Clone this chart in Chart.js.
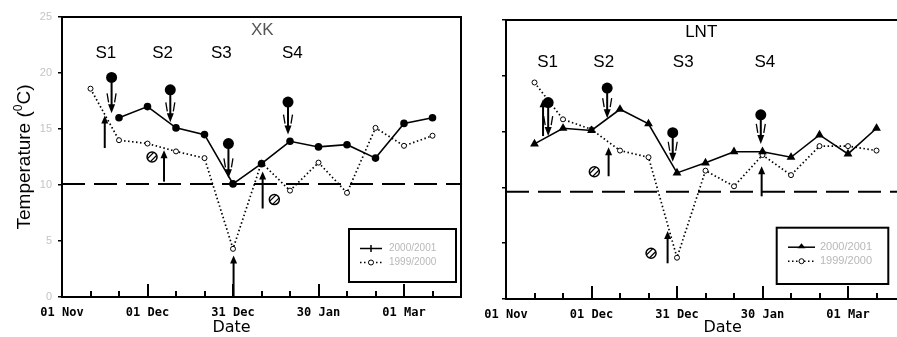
<!DOCTYPE html>
<html><head><meta charset="utf-8">
<script src="https://cdn.jsdelivr.net/npm/chart.js@4/dist/chart.umd.min.js"></script>
<style>
html,body{margin:0;padding:0;background:#fff;overflow:hidden;width:897px;height:337px;}
.w{position:absolute;top:0;width:470px;height:337px;}
#w1{left:0;}
#w2{left:444px;}
</style></head><body>
<div class="w" id="w1"><canvas id="c1" width="470" height="337"></canvas></div>
<div class="w" id="w2"><canvas id="c2" width="470" height="337"></canvas></div>
<script>
// ---------- data ----------
const seriesNames = ['2000/2001', '1999/2000'];
const xTickLabels = {0:'01 Nov', 30:'01 Dec', 60:'31 Dec', 90:'30 Jan', 120:'01 Mar'};
const majorDays = [30, 60, 90, 120];
const yTicks = [0, 5, 10, 15, 20, 25];

// XK (days since 01 Nov)
const xkDays2000 = [20, 30, 40, 50, 60, 70, 80, 90, 100, 110, 120, 130];
const xkTemp2000 = [16.0, 17.0, 15.1, 14.5, 10.1, 11.9, 13.9, 13.4, 13.6, 12.4, 15.5, 16.0];
const xkDays1999 = [10, 20, 30, 40, 50, 60, 70, 80, 90, 100, 110, 120, 130];
const xkTemp1999 = [18.6, 14.0, 13.7, 13.0, 12.4, 4.3, 12.0, 9.5, 12.0, 9.3, 15.1, 13.5, 14.4];
const xkThreshold = 10.1;
const xkDownDay = [17.4, 38.0, 58.4, 79.3];
const xkDownTop = [19.6, 18.5, 13.7, 17.4];
const xkDownBot = [16.4, 15.6, 10.6, 14.5];
const xkUpDay = [15.0, 35.8, 60.2, 70.4];
const xkUpBot = [13.3, 10.3, 0.0, 7.9];
const xkUpTop = [16.2, 13.1, 3.7, 11.2];
const xkHatchDay = [31.6, 74.5];
const xkHatchTemp = [12.5, 8.7];

// LNT
const lntDays2000 = [10, 20, 30, 40, 50, 60, 70, 80, 90, 100, 110, 120, 130];
const lntTemp2000 = [13.9, 15.3, 15.1, 17.0, 15.7, 11.3, 12.2, 13.2, 13.2, 12.7, 14.7, 13.0, 15.3];
const lntDays1999 = [10, 20, 30, 40, 50, 60, 70, 80, 90, 100, 110, 120, 130];
const lntTemp1999 = [19.4, 16.1, 15.2, 13.3, 12.7, 3.7, 11.5, 10.1, 12.9, 11.1, 13.7, 13.7, 13.3];
const lntThreshold = 9.6;
const lntDownDay = [14.8, 35.5, 58.5, 89.4];
const lntDownTop = [17.6, 18.9, 14.9, 16.5];
const lntDownBot = [14.6, 16.2, 12.3, 13.9];
const lntUpDay = [13.0, 36.0, 56.7, 89.7];
const lntUpBot = [14.6, 11.0, 3.2, 9.2];
const lntUpTop = [17.9, 13.6, 6.1, 11.9];
const lntHatchDay = [31.0, 50.9];
const lntHatchTemp = [11.4, 4.1];

const stageNames = ['S1', 'S2', 'S3', 'S4'];

// ---------- helpers ----------
const zip = (xs, ys) => xs.map((x, i) => ({x: x, y: ys[i]}));
function line(ctx, x1, y1, x2, y2) { ctx.beginPath(); ctx.moveTo(x1, y1); ctx.lineTo(x2, y2); ctx.stroke(); }

function makePlugin(cfg) {
  return {
    id: 'annot',
    beforeDatasetsDraw(chart) {
      const ctx = chart.ctx, a = chart.chartArea, xs = chart.scales.x;
      ctx.save();
      ctx.strokeStyle = '#000';
      ctx.lineWidth = 2;
      for (const t of xs.ticks) {
        const v = t.value;
        if (v <= xs.min || v >= xs.max) continue;
        const px = Math.round(xs.getPixelForValue(v));
        const len = majorDays.includes(v) ? 13 : 6;
        line(ctx, px, a.bottom, px, a.bottom - len);
      }
      ctx.strokeRect(a.left, a.top, a.right - a.left, a.bottom - a.top);
      ctx.restore();
    },
    afterDatasetsDraw(chart) {
      const ctx = chart.ctx, xs = chart.scales.x, ys = chart.scales.y;
      const X = v => xs.getPixelForValue(v), Y = v => ys.getPixelForValue(v);
      ctx.save();
      ctx.fillStyle = '#000'; ctx.strokeStyle = '#000';
      cfg.downDay.forEach((d, i) => {
        const x = X(d), yT = Y(cfg.downTop[i]), yB = Y(cfg.downBot[i]);
        ctx.lineWidth = 2;
        line(ctx, x, yT, x, yB - 5);
        ctx.beginPath(); ctx.arc(x, yT, 5.5, 0, Math.PI * 2); ctx.fill();
        ctx.beginPath(); ctx.moveTo(x - 3.5, yB - 9); ctx.lineTo(x + 3.5, yB - 9); ctx.lineTo(x, yB); ctx.closePath(); ctx.fill();
        ctx.lineWidth = 1.3;
        line(ctx, x - 4.5, yB - 20, x - 3, yB - 11);
        line(ctx, x + 4.5, yB - 20, x + 3, yB - 11);
      });
      cfg.upDay.forEach((d, i) => {
        const x = X(d), yB = Y(cfg.upBot[i]), yT = Y(cfg.upTop[i]);
        ctx.lineWidth = 2;
        line(ctx, x, yB, x, yT + 5);
        ctx.beginPath(); ctx.moveTo(x - 3.5, yT + 8); ctx.lineTo(x + 3.5, yT + 8); ctx.lineTo(x, yT); ctx.closePath(); ctx.fill();
      });
      cfg.hatchDay.forEach((d, i) => {
        const x = X(d), y = Y(cfg.hatchTemp[i]);
        ctx.lineWidth = 1.5;
        ctx.beginPath(); ctx.arc(x, y, 5, 0, Math.PI * 2); ctx.stroke();
        ctx.save();
        ctx.beginPath(); ctx.arc(x, y, 5, 0, Math.PI * 2); ctx.clip();
        ctx.lineWidth = 1.2;
        line(ctx, x - 5, y + 2, x + 2, y - 5);
        line(ctx, x - 2, y + 5, x + 5, y - 2);
        ctx.restore();
      });
      ctx.restore();
    },
    afterDraw(chart) {
      const ctx = chart.ctx, xs = chart.scales.x, ys = chart.scales.y;
      const X = v => xs.getPixelForValue(v), Y = v => ys.getPixelForValue(v);
      ctx.save();
      ctx.textAlign = 'center'; ctx.textBaseline = 'middle';
      ctx.fillStyle = cfg.titleColor;
      ctx.font = '17px "Liberation Sans", Arial, sans-serif';
      ctx.fillText(cfg.title, X(cfg.titlePos[0]), Y(cfg.titlePos[1]));
      ctx.fillStyle = '#000';
      ctx.font = '17px "Liberation Sans", Arial, sans-serif';
      stageNames.forEach((s, i) => ctx.fillText(s, X(cfg.stageDay[i]), Y(cfg.stageTemp)));
      ctx.font = '16px "DejaVu Sans", sans-serif';
      ctx.fillText('Date', X(cfg.dateDay), 328);
      if (cfg.yTitle) {
        ctx.save();
        ctx.translate(25, 157);
        ctx.rotate(-Math.PI / 2);
        const f1 = '19px "Liberation Sans", Arial, sans-serif';
        const f2 = '12px "Liberation Sans", Arial, sans-serif';
        const p1 = 'Temperature (', p2 = '0', p3 = 'C)';
        ctx.font = f1; const w1 = ctx.measureText(p1).width, w3 = ctx.measureText(p3).width;
        ctx.font = f2; const w2 = ctx.measureText(p2).width;
        let x0 = -(w1 + w2 + w3) / 2;
        ctx.textAlign = 'left';
        ctx.font = f1; ctx.fillText(p1, x0, 0);
        ctx.font = f2; ctx.fillText(p2, x0 + w1, -6);
        ctx.font = f1; ctx.fillText(p3, x0 + w1 + w2, 0);
        ctx.restore();
      }
      const L = cfg.legend;
      ctx.lineWidth = 2; ctx.strokeStyle = '#000';
      ctx.strokeRect(L.x, L.y, L.w, L.h);
      const rows = [L.y + 19.5, L.y + 33.5];
      ctx.lineWidth = 1.5;
      line(ctx, L.lx1, rows[0], L.lx2, rows[0]);
      ctx.beginPath();
      const mx = (L.lx1 + L.lx2) / 2;
      if (cfg.triangle) { ctx.moveTo(mx - 4, rows[0] + 1); ctx.lineTo(mx + 4, rows[0] + 1); ctx.lineTo(mx, rows[0] - 4); ctx.closePath(); ctx.fill(); }
      else { line(ctx, mx, rows[0] - 3.5, mx, rows[0] + 3.5); }
      ctx.save(); ctx.setLineDash([1.5, 2.5]); line(ctx, L.lx1, rows[1], L.lx2, rows[1]); ctx.restore();
      ctx.fillStyle = '#fff'; ctx.lineWidth = 1;
      ctx.beginPath(); ctx.arc(mx, rows[1], 2.5, 0, Math.PI * 2); ctx.fill(); ctx.stroke();
      ctx.fillStyle = '#b8b8b8'; ctx.textAlign = 'left';
      ctx.font = L.font;
      ctx.fillText(seriesNames[0], L.tx, rows[0]);
      ctx.fillText(seriesNames[1], L.tx, rows[1]);
      ctx.restore();
    }
  };
}

function makeChart(id, cfg) {
  return new Chart(document.getElementById(id), {
    type: 'line',
    data: {
      datasets: [
        { label: seriesNames[0], data: zip(cfg.d2000, cfg.t2000), borderColor: '#000', backgroundColor: '#000',
          borderWidth: 1.6, pointStyle: cfg.triangle ? 'triangle' : 'circle', pointRadius: cfg.triangle ? 3.5 : 3,
          pointBackgroundColor: '#000', pointBorderColor: '#000', tension: 0 },
        { label: seriesNames[1], data: zip(cfg.d1999, cfg.t1999), borderColor: '#000', backgroundColor: '#fff',
          borderWidth: 1.7, borderDash: [1.5, 2.5], pointRadius: 2.5, pointBorderWidth: 1,
          pointBackgroundColor: '#fff', pointBorderColor: '#000', tension: 0 },
        { label: 'threshold', data: [{x: 0, y: cfg.threshold}, {x: 140, y: cfg.threshold}],
          borderColor: '#000', borderWidth: 2, borderDash: [23, 9], pointRadius: 0 }
      ]
    },
    options: {
      responsive: false, animation: false, events: [],
      layout: { padding: { top: cfg.top, right: 8, left: 0, bottom: 0 } },
      plugins: { legend: { display: false }, tooltip: { enabled: false } },
      scales: {
        x: {
          type: 'linear', min: 0, max: 140,
          afterFit: s => { s.height = 337 - cfg.bottom; },
          afterBuildTicks: s => { s.ticks = Array.from({length: 15}, (_, i) => ({value: i * 10})); },
          ticks: { autoSkip: false, maxRotation: 0, padding: 9, color: '#000',
            font: { family: '"DejaVu Sans Mono", monospace', size: 12, weight: 'bold' },
            callback: v => xTickLabels[v] || '' },
          grid: { display: false, drawTicks: false },
          border: { display: false }
        },
        y: {
          min: 0, max: 25,
          afterFit: s => { s.width = 62; },
          afterBuildTicks: s => { s.ticks = yTicks.map(v => ({value: v})); },
          ticks: { padding: 6, color: '#c4c4c4', font: { family: '"Liberation Sans", Arial, sans-serif', size: 11 },
            callback: v => cfg.yLabels ? String(v) : '' },
          grid: { drawOnChartArea: false, drawTicks: true, tickLength: 4, color: '#000', lineWidth: 1.5 },
          border: { display: false }
        }
      }
    },
    plugins: [makePlugin(cfg)]
  });
}

makeChart('c1', {
  top: 17, bottom: 297, yLabels: true, yTitle: true, triangle: false,
  d2000: xkDays2000, t2000: xkTemp2000, d1999: xkDays1999, t1999: xkTemp1999, threshold: xkThreshold,
  downDay: xkDownDay, downTop: xkDownTop, downBot: xkDownBot,
  upDay: xkUpDay, upBot: xkUpBot, upTop: xkUpTop,
  hatchDay: xkHatchDay, hatchTemp: xkHatchTemp,
  title: 'XK', titleColor: '#555', titlePos: [70.3, 23.8],
  stageDay: [15.4, 35.3, 55.9, 80.8], stageTemp: 21.8, dateDay: 59.5,
  legend: { x: 349, y: 229, w: 107, h: 53, lx1: 360, lx2: 382, tx: 389, font: '10px "Liberation Sans", Arial, sans-serif' }
});

makeChart('c2', {
  top: 20, bottom: 299, yLabels: false, yTitle: false, triangle: true,
  d2000: lntDays2000, t2000: lntTemp2000, d1999: lntDays1999, t1999: lntTemp1999, threshold: lntThreshold,
  downDay: lntDownDay, downTop: lntDownTop, downBot: lntDownBot,
  upDay: lntUpDay, upBot: lntUpBot, upTop: lntUpTop,
  hatchDay: lntHatchDay, hatchTemp: lntHatchTemp,
  title: 'LNT', titleColor: '#000', titlePos: [68.5, 23.9],
  stageDay: [14.6, 34.3, 62.2, 90.8], stageTemp: 21.2, dateDay: 76,
  legend: { x: 332.7, y: 227.7, w: 111.6, h: 56.3, lx1: 344, lx2: 371, tx: 376, font: '11px "Liberation Sans", Arial, sans-serif' }
});
</script>
</body></html>
